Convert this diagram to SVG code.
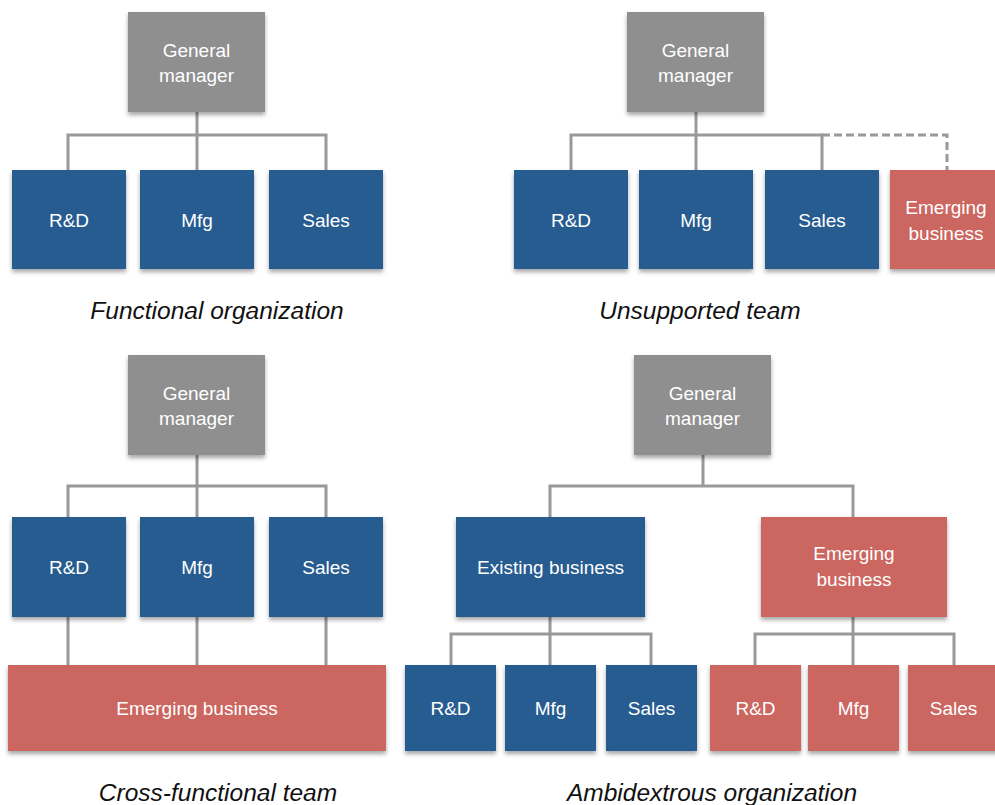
<svg xmlns="http://www.w3.org/2000/svg" width="995" height="805" viewBox="0 0 995 805">
  <defs>
    <filter id="shadow" x="-10%" y="-10%" width="120%" height="130%">
      <feDropShadow dx="0" dy="3" stdDeviation="2" flood-color="#000" flood-opacity="0.35"/>
    </filter>
    <style>
      .gm { fill: #8f8f8f; filter: url(#shadow); }
      .blue { fill: #285b8f; filter: url(#shadow); }
      .red { fill: #cc6660; filter: url(#shadow); }
      .lbl { font-family: "Liberation Sans", Arial, sans-serif; font-size: 19px; fill: #ffffff; text-anchor: middle; }
      .cap { font-family: "Liberation Sans", Arial, sans-serif; font-size: 24.5px; font-style: italic; fill: #111111; text-anchor: middle; }
      .link { fill: none; stroke: #999999; stroke-width: 3; }
      .dash { fill: none; stroke: #999999; stroke-width: 3; stroke-dasharray: 8 4; }
    </style>
  </defs>
  <rect width="995" height="805" fill="#ffffff"/>

  <!-- connectors -->
  <g id="connectors">
    <!-- functional organization -->
    <path class="link" d="M197 112 V170 M68 170 V135 H326 V170"/>
    <!-- unsupported team -->
    <path class="link" d="M696 112 V170 M571 170 V135 H822 V170"/>
    <path class="dash" d="M822 135 H947 V170"/>
    <!-- cross-functional team -->
    <path class="link" d="M197 455 V665 M68 665 V486 H326 V665"/>
    <!-- ambidextrous organization -->
    <path class="link" d="M703 455 V486 M550 517 V486 H853 V517"/>
    <path class="link" d="M550 617 V665 M451 665 V634 H651 V665"/>
    <path class="link" d="M853 617 V665 M755 665 V634 H954 V665"/>
  </g>

  <!-- Functional organization -->
  <g id="f-gm"><rect class="gm" x="128" y="12" width="137" height="100"/>
    <text class="lbl" x="196.5" y="57">General</text><text class="lbl" x="196.5" y="82">manager</text></g>
  <g id="f-rd"><rect class="blue" x="12" y="170" width="114" height="99"/><text class="lbl" x="69" y="227">R&amp;D</text></g>
  <g id="f-mfg"><rect class="blue" x="140" y="170" width="114" height="99"/><text class="lbl" x="197" y="227">Mfg</text></g>
  <g id="f-sales"><rect class="blue" x="269" y="170" width="114" height="99"/><text class="lbl" x="326" y="227">Sales</text></g>
  <text class="cap" x="217" y="319">Functional organization</text>

  <!-- Unsupported team -->
  <g id="u-gm"><rect class="gm" x="627" y="12" width="137" height="100"/>
    <text class="lbl" x="695.5" y="57">General</text><text class="lbl" x="695.5" y="82">manager</text></g>
  <g id="u-rd"><rect class="blue" x="514" y="170" width="114" height="99"/><text class="lbl" x="571" y="227">R&amp;D</text></g>
  <g id="u-mfg"><rect class="blue" x="639" y="170" width="114" height="99"/><text class="lbl" x="696" y="227">Mfg</text></g>
  <g id="u-sales"><rect class="blue" x="765" y="170" width="114" height="99"/><text class="lbl" x="822" y="227">Sales</text></g>
  <g id="u-emerging"><rect class="red" x="890" y="170" width="114" height="99"/>
    <text class="lbl" x="946" y="214">Emerging</text><text class="lbl" x="946" y="240">business</text></g>
  <text class="cap" x="700" y="319">Unsupported team</text>

  <!-- Cross-functional team -->
  <g id="c-gm"><rect class="gm" x="128" y="355" width="137" height="100"/>
    <text class="lbl" x="196.5" y="400">General</text><text class="lbl" x="196.5" y="425">manager</text></g>
  <g id="c-rd"><rect class="blue" x="12" y="517" width="114" height="100"/><text class="lbl" x="69" y="574">R&amp;D</text></g>
  <g id="c-mfg"><rect class="blue" x="140" y="517" width="114" height="100"/><text class="lbl" x="197" y="574">Mfg</text></g>
  <g id="c-sales"><rect class="blue" x="269" y="517" width="114" height="100"/><text class="lbl" x="326" y="574">Sales</text></g>
  <g id="c-emerging"><rect class="red" x="8" y="665" width="378" height="86"/><text class="lbl" x="197" y="715">Emerging business</text></g>
  <text class="cap" x="218" y="801">Cross-functional team</text>

  <!-- Ambidextrous organization -->
  <g id="a-gm"><rect class="gm" x="634" y="355" width="137" height="100"/>
    <text class="lbl" x="702.5" y="400">General</text><text class="lbl" x="702.5" y="425">manager</text></g>
  <g id="a-existing"><rect class="blue" x="456" y="517" width="189" height="100"/><text class="lbl" x="550.5" y="574">Existing business</text></g>
  <g id="a-emerging"><rect class="red" x="761" y="517" width="186" height="100"/>
    <text class="lbl" x="854" y="560">Emerging</text><text class="lbl" x="854" y="586">business</text></g>
  <g id="a-rd1"><rect class="blue" x="405" y="665" width="91" height="86"/><text class="lbl" x="450.5" y="715">R&amp;D</text></g>
  <g id="a-mfg1"><rect class="blue" x="505" y="665" width="91" height="86"/><text class="lbl" x="550.5" y="715">Mfg</text></g>
  <g id="a-sales1"><rect class="blue" x="606" y="665" width="91" height="86"/><text class="lbl" x="651.5" y="715">Sales</text></g>
  <g id="a-rd2"><rect class="red" x="710" y="665" width="91" height="86"/><text class="lbl" x="755.5" y="715">R&amp;D</text></g>
  <g id="a-mfg2"><rect class="red" x="808" y="665" width="91" height="86"/><text class="lbl" x="853.5" y="715">Mfg</text></g>
  <g id="a-sales2"><rect class="red" x="908" y="665" width="91" height="86"/><text class="lbl" x="953.5" y="715">Sales</text></g>
  <text class="cap" x="712" y="801">Ambidextrous organization</text>
</svg>
